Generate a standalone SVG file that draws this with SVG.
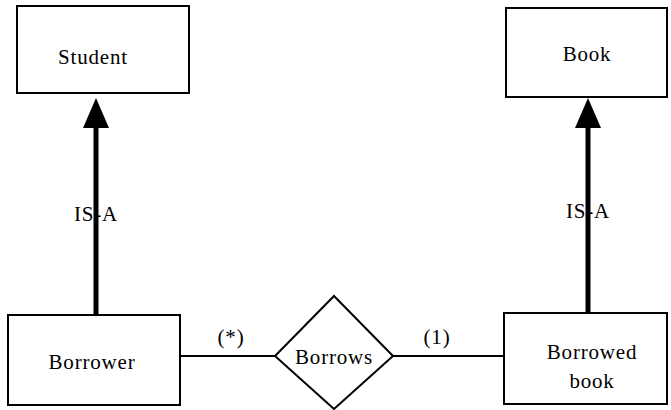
<svg xmlns="http://www.w3.org/2000/svg" width="671" height="410" viewBox="0 0 671 410">
<style>
.box{fill:#fff;stroke:#000;stroke-width:2}
.t{font-family:"Liberation Serif","Times New Roman",serif;font-size:21px;fill:#000;text-anchor:middle;letter-spacing:0.8px}
.isa{stroke:#000;stroke-width:5;fill:none}
.rel{stroke:#000;stroke-width:2;fill:none}
</style>
<rect width="671" height="410" fill="#fff"/>
<g id="connectors">
<line class="isa" x1="96" y1="315" x2="96" y2="128"/>
<path d="M83,128 L96,98 L109,128 Z" fill="#000"/>
<line class="isa" x1="588" y1="313" x2="588" y2="128"/>
<path d="M575,128 L588,98 L601,128 Z" fill="#000"/>
<line class="rel" x1="180" y1="356" x2="275" y2="356"/>
<line class="rel" x1="393" y1="356" x2="510" y2="356"/>
<text class="t" x="96" y="221">IS-A</text>
<text class="t" x="588" y="218">IS-A</text>
<text class="t" x="231" y="344">(*)</text>
<text class="t" x="437" y="344">(1)</text>
</g>
<g id="student">
<rect class="box" x="17" y="6" width="172" height="87"/>
<text class="t" x="93" y="64">Student</text>
</g>
<g id="book">
<rect class="box" x="506" y="8" width="161" height="89"/>
<text class="t" x="587" y="61">Book</text>
</g>
<g id="borrower">
<rect class="box" x="8" y="315" width="172" height="90"/>
<text class="t" x="92" y="369">Borrower</text>
</g>
<g id="borrows">
<polygon class="box" points="334,296 393,356 334,409 275,356"/>
<text class="t" x="334" y="364">Borrows</text>
</g>
<g id="borrowed-book">
<rect class="box" x="504" y="313" width="163" height="91"/>
<text class="t" x="592" y="359">Borrowed</text>
<text class="t" x="592" y="388">book</text>
</g>
</svg>
